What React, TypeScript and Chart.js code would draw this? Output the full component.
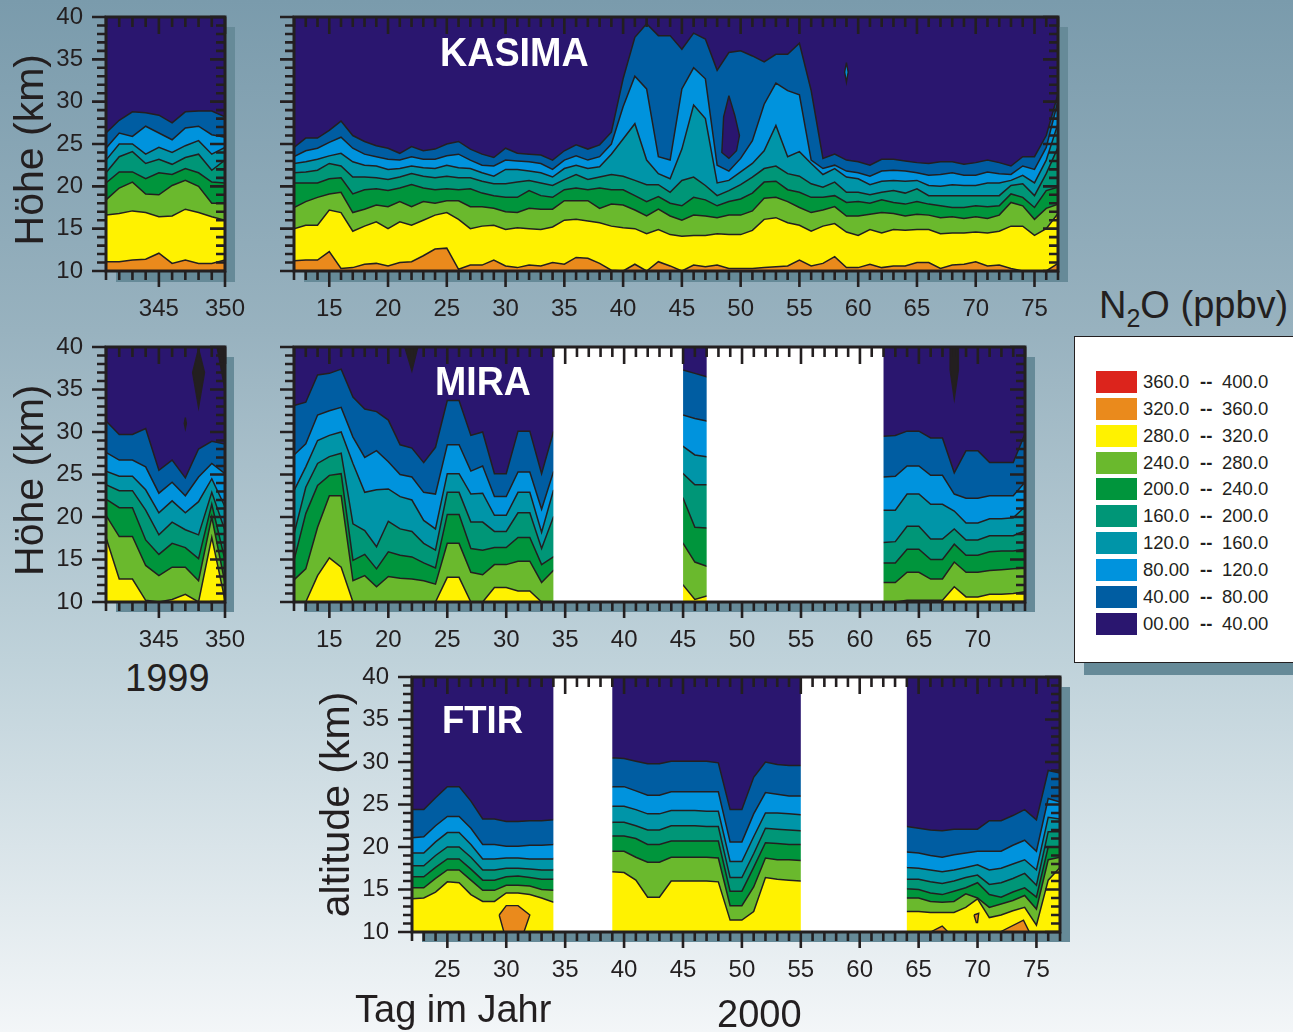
import React, { useEffect, useRef } from "react";
import { Chart, registerables } from "chart.js";

Chart.register(...registerables);

const range = (a: number, b: number) => {
  const out: number[] = [];
  for (let i = a; i <= b; i++) out.push(i);
  return out;
};

// ---------- contour levels (ppbv) and colours ----------
const contourColors = ["#005da2", "#0093dd", "#0095a8", "#009677", "#00953c", "#6ab92d", "#fff200", "#ea8a1c"];
const navy = "#2a166f";
const legendLow = ["360.0", "320.0", "280.0", "240.0", "200.0", "160.0", "120.0", "80.00", "40.00", "00.00"];
const legendHigh = ["400.0", "360.0", "320.0", "280.0", "240.0", "200.0", "160.0", "120.0", "80.00", "40.00"];
const legendColors = ["#dc241c", "#ea8a1c", "#fff200", "#6ab92d", "#00953c", "#009677", "#0095a8", "#0093dd", "#005da2", "#2a166f"];

// ---------- KASIMA 1999 ----------
const leftDays = range(341, 350);
const kasimaLeft40 = [26.3, 27.8, 28.8, 28.7, 28.4, 27.5, 28.8, 28.9, 28.9, 28.2];
const kasimaLeft80 = [24.5, 26.3, 25.9, 27.1, 26.3, 25.5, 26.9, 27.1, 26.1, 25.8];
const kasimaLeft120 = [23.1, 25, 25, 23.8, 24.6, 24, 24.8, 25.4, 23.8, 24.6];
const kasimaLeft160 = [21.6, 23.5, 24.1, 22.7, 23.2, 22.6, 23.4, 23.8, 21.9, 23.1];
const kasimaLeft200 = [20.4, 21.7, 21.7, 20.9, 21.6, 21.4, 22.1, 21.6, 20.5, 20.4];
const kasimaLeft240 = [18.4, 19.8, 20.5, 19.1, 19, 20.1, 20.7, 20, 18, 18];
const kasimaLeft280 = [16.6, 16.8, 17.1, 16.9, 16.4, 16.5, 17.3, 16.9, 16.4, 16];
const kasimaLeft320 = [11.1, 11.1, 11.3, 11.4, 12.1, 10.9, 11.3, 10.9, 10.9, 11.3];

// ---------- KASIMA 2000 ----------
const kasimaDays = range(12, 77);
const kasima40 = [24.6, 25.7, 25.7, 26.6, 27.7, 26, 25.3, 24.8, 24.5, 23.9, 24.7, 24.2, 24.4, 25, 25.3, 24.4, 23.8, 23.4, 24.5, 23.9, 23.8, 23.7, 23.1,
  24.2, 24.9, 24.4, 24.9, 26.4, 32.7, 37.6, 39.2, 37.8, 37.8, 36.2, 38.1, 37.4, 33.7, 35.8, 36, 35.4, 34.7, 35.6, 35.6, 36.9, 31.3,
  23.3, 23.8, 23.1, 22.9, 22.5, 23.2, 23.2, 23, 22.8, 22.7, 22.9, 22.9, 22.6, 22.8, 23.1, 22.8, 22.4, 23.5, 23.5, 26, 30.9];
const kasima80 = [23.5, 24.2, 24.5, 25.2, 25.8, 24.5, 23.8, 23.5, 23.2, 23.1, 23.5, 23.2, 23.2, 23.6, 23.8, 23.1, 22.5, 22.4, 23.1, 23, 22.9, 22.7, 22,
  23.1, 23.6, 23.1, 23.5, 25, 29.4, 33, 31.5, 23.5, 23.1, 31.5, 34, 32.7, 22.5, 21.8, 23.3, 25.4, 29.7, 32.2, 31.3, 30.8, 23.1,
  22.1, 22.5, 21.8, 21.6, 21.2, 21.8, 21.9, 21.8, 21.6, 21.3, 21.4, 21.6, 21.3, 21.3, 21.7, 21.5, 21.4, 22.4, 22, 24.6, 30.1];
const kasima120 = [22.7, 22.9, 23.2, 23.6, 23.9, 22.9, 22.5, 22.4, 22, 22.1, 22.4, 22.2, 22.1, 22.5, 22.2, 22.1, 21.6, 21.2, 22, 22, 21.8, 21.6, 21.1,
  22.1, 22.5, 22.1, 22.3, 23.8, 25.6, 27.4, 23.1, 21.5, 20.9, 24.4, 29.6, 28, 20.4, 20.7, 21.7, 22.7, 24.2, 27.2, 23.5, 24.1, 22.7,
  21.4, 22.1, 21.1, 20.9, 20.2, 20.6, 20.7, 20.6, 20.7, 20.1, 20, 20.2, 20.1, 20.1, 20.4, 20.4, 20.7, 21.3, 20.4, 23.1, 27.4];
const kasima160 = [21.6, 21.7, 21.9, 22.7, 22.4, 21.1, 21.1, 21, 20.8, 21.1, 21.5, 21.2, 21, 21.2, 21, 21, 20.6, 20.3, 20.3, 20.5, 20.7, 20.4, 20.1,
  20.8, 21.4, 20.8, 21.1, 21.4, 21.2, 20.7, 20.2, 20.2, 19.3, 20.7, 21.1, 20.1, 18.9, 19.5, 20.2, 21.1, 22.1, 22.4, 21.5, 21.2, 20.3,
  19.9, 20.5, 19.3, 19.3, 19, 19.3, 19.5, 19.2, 19.7, 18.9, 18.9, 18.9, 18.9, 18.9, 18.9, 18.9, 20.1, 20.3, 18.9, 21.5, 24.6];
const kasima200 = [20.4, 20.4, 20.4, 20.9, 21, 19.1, 19.6, 19.7, 19.5, 19.8, 20.2, 19.8, 19.6, 19.7, 19.6, 19.7, 19.2, 18.9, 18.7, 18.7, 19.5, 18.9, 18.7,
  19.6, 19.8, 19.6, 19.8, 19.6, 19.6, 18.9, 18.2, 18.8, 18, 17.7, 18.7, 18.4, 17.7, 18.2, 18.5, 19.2, 20.5, 20.6, 19.6, 19.3, 18.7,
  18.7, 18.9, 18.1, 18.2, 18, 18.4, 18.1, 17.9, 18.2, 17.9, 17.7, 17.5, 17.5, 17.7, 17.6, 17.7, 19.1, 18.7, 17.5, 19.5, 19.9];
const kasima240 = [17.5, 18.2, 18.7, 19.1, 19.3, 16.9, 17.3, 17.8, 17.6, 18.2, 17.6, 18.2, 18, 18.3, 18.3, 17.6, 17.6, 17.4, 17, 16.9, 17.4, 17.3, 17.3,
  18.3, 18.3, 18.3, 17.4, 17.9, 17.8, 17.2, 16.5, 17.3, 16.5, 16, 16.6, 16.5, 16.3, 16.6, 16.6, 17.1, 18.6, 18.7, 18.2, 17.5, 16.9,
  17.2, 17.6, 16.5, 16.5, 16.7, 16.9, 16.8, 16.5, 16.7, 16.6, 16.3, 16.4, 16.2, 16.4, 16.2, 16.6, 18.1, 17.7, 16.1, 17.4, 17.9];
const kasima280 = [15, 15.4, 15.4, 17.2, 16.9, 14.7, 15.3, 15.8, 15, 15.8, 15.4, 16, 16.6, 16.9, 16.1, 15, 15.3, 15.4, 14.9, 15.1, 15, 14.9, 15.2,
  16, 16.1, 15.9, 15.7, 15.3, 15.1, 15, 14.4, 14.9, 14.3, 14.1, 14.2, 14.2, 14.4, 14.3, 14.3, 14.8, 16.1, 16.3, 15.7, 15.4, 14.7,
  15.3, 15.6, 14.6, 14.2, 14.9, 14.5, 14.9, 14.8, 14.9, 14.9, 14.4, 14.5, 14.5, 14.6, 14.5, 14.7, 15.3, 15.3, 14.2, 15, 16.8];
const kasima320 = [11.2, 11.3, 11.3, 12.3, 10.3, 10.4, 10.8, 10.9, 10.6, 11, 11.1, 11.8, 12.6, 12.7, 10.2, 10.7, 10.7, 11.3, 10.6, 10.4, 10.7, 10.6, 11,
  10.8, 11.6, 11.5, 10.9, 10.1, 10, 10.8, 10, 11.1, 10.6, 10, 10.7, 10.5, 10.7, 10.3, 10.3, 10.3, 10.4, 10.5, 10.6, 11.3, 10.6,
  10.9, 11.7, 10.4, 10.4, 10.8, 10.4, 10.6, 10.6, 11, 11, 10.3, 10.7, 10.8, 11.1, 10.6, 10.7, 10.3, 10, 10, 10, 10.9];
const kasimaIslandDays = [49, 49.5, 49.9, 49.65, 49, 48.4, 48.55, 49];
const kasimaIslandKm = [30.7, 28.4, 26, 24.2, 23.3, 24, 28.2, 30.7];
const kasimaSpotDays = [59, 59.15, 59, 58.85, 59];
const kasimaSpotKm = [34.6, 33.5, 32.3, 33.5, 34.6];

// ---------- MIRA 1999 ----------
const miraLeft40 = [31.3, 29.7, 29.7, 30.4, 25.5, 26.7, 24.6, 28, 28.9, 28.6];
const miraLeft80 = [27.6, 26.7, 26.7, 25.9, 22.8, 24.1, 22.5, 24.7, 26.3, 25.1];
const miraLeft120 = [25.4, 24.8, 24.8, 23.2, 20.5, 21.9, 20.5, 21.8, 24.5, 21.2];
const miraLeft160 = [23.8, 23.1, 23.1, 20.8, 17.9, 19.4, 18.5, 17.9, 22.9, 18.4];
const miraLeft200 = [22.1, 21.1, 21.1, 17.3, 15.6, 16.9, 16.4, 15.1, 21.5, 14.9];
const miraLeft240 = [20.2, 17.7, 17.7, 14.3, 13.1, 14.1, 14.1, 12.5, 20, 12.2];
const miraLeft280 = [17.6, 12.7, 12.7, 10.2, 10, 10.3, 10.9, 10, 17.6, 10.2];
const miraSpot1Days = [348, 348.45, 348, 347.55, 348];
const miraSpot1Km = [39.8, 37, 32.9, 37, 39.8];
const miraSpot2Days = [349.4, 350, 350, 349.4];
const miraSpot2Km = [40, 40, 35, 40];
const miraSpot3Days = [347, 347.08, 347, 346.92, 347];
const miraSpot3Km = [31.7, 31, 30.4, 31, 31.7];

// ---------- MIRA 2000 ----------
const miraDays = [...range(12, 34), 45, 46, 47, ...range(62, 74)];
const miraGaps = [[34, 45], [47, 62]];
const mira40 = [33.1, 33.5, 36.7, 36.9, 37.4, 34.1, 32.7, 32.4, 31.4, 28.5, 28.1, 26.4, 28.2, 33.7, 33.7, 29.6, 30, 25.1, 25.1, 30.1, 30.1, 25.1, 30,
  37.3, 36.9, 36.5, 29.5, 29.6, 30.1, 30.1, 29.3, 29.3, 25.2, 27.8, 27.8, 26.4, 26.4, 26.4, 29.8];
const mira80 = [27.3, 28.6, 32, 32.5, 32.9, 29.4, 27, 27.8, 26.5, 25, 24.7, 22.9, 22.7, 28.5, 28.5, 25.4, 26, 22.4, 22.4, 25.3, 25.3, 20.9, 25.3,
  32, 31.6, 31.3, 24.7, 24.8, 26, 26, 24.9, 24.9, 22.7, 22.2, 22.2, 22.5, 22.5, 22.5, 24.1];
const mira120 = [23.1, 25.9, 29, 29.6, 30, 26.3, 22.9, 23.2, 23.3, 22.4, 22, 19.6, 18.6, 25.1, 25.1, 22.7, 22.8, 20.2, 20.2, 22.9, 22.9, 18.2, 23.1,
  28.3, 27.3, 27.1, 20.8, 20.8, 22.7, 22.7, 21.5, 21.5, 20.7, 19.3, 19.3, 19.8, 19.8, 19.9, 21.2];
const mira160 = [18, 23.5, 26.3, 27.1, 27.5, 19.2, 18.4, 16.5, 19.5, 18.6, 18.3, 16.9, 16.1, 22.9, 22.9, 19.4, 19.4, 18.3, 18.3, 20.5, 20.5, 16.3, 20,
  25.1, 23.8, 23.8, 17, 17.1, 18.9, 18.9, 17.4, 17.4, 18.6, 17.3, 17.3, 17.8, 17.8, 17.8, 18.4];
const mira200 = [14.9, 20.4, 23.7, 24.9, 25.1, 14.9, 15.6, 13.9, 15.9, 15.5, 15.3, 14.6, 14, 20.3, 20.3, 16.3, 16.1, 16.4, 16.4, 17.6, 17.6, 14.4, 15.3,
  22.2, 18.8, 18.7, 14.6, 14.6, 16.2, 16.2, 15, 15, 16.8, 15.5, 15.5, 15.9, 16, 16, 16.2];
const mira240 = [12.6, 13.9, 18.8, 22.5, 22.5, 12.5, 13.1, 11.8, 13, 12.8, 12.7, 12.5, 12.1, 16.9, 16.9, 13.5, 13.2, 14.4, 14.4, 14.8, 14.8, 12.3, 13.7,
  16.9, 14.7, 14.2, 12.3, 12.3, 13.5, 13.5, 12.7, 12.7, 14.7, 13.5, 13.5, 13.7, 13.8, 13.9, 14];
const mira280 = [10, 10, 13.1, 15.2, 14.1, 10, 10, 10, 10, 10, 10, 10, 10, 12.9, 12.9, 10, 10, 11.7, 11.7, 11.3, 11.3, 10, 10,
  12, 10.3, 10.7, 10, 10, 10.2, 10.2, 10.2, 10.2, 11.8, 10.6, 10.6, 10.9, 10.9, 11, 11.2];
const miraSpot4Days = [21.4, 22.5, 22, 21.4];
const miraSpot4Km = [40, 40, 37.2, 40];
const miraSpot5Days = [67.65, 68.35, 68.35, 68, 67.65, 67.65];
const miraSpot5Km = [40, 40, 37.3, 33.9, 37.3, 40];

// ---------- FTIR 2000 ----------
const ftirDays = [...range(22, 34), ...range(39, 55), ...range(64, 77)];
const ftirGaps = [[34, 39], [55, 64]];
const ftir40 = [24.4, 24.4, 25.8, 27.1, 27.1, 25.4, 23.3, 23.3, 23, 23, 23.1, 23.1, 23.2,
  30.5, 30.4, 30.1, 29.8, 29.8, 30.1, 30.1, 30.1, 30.1, 29.9, 24.4, 24.4, 28.2, 30, 29.7, 29.6, 29.6,
  22.4, 22.2, 22, 21.9, 22.1, 22.1, 22.1, 23.1, 23.1, 23.7, 24.4, 23.2, 29, 28.7];
const ftir80 = [21.1, 21.2, 22.5, 23.6, 23.6, 22.2, 20.3, 20.3, 20.1, 20.1, 20.2, 20.2, 20.3,
  27.1, 27.1, 26.6, 26.1, 26.1, 26.5, 26.5, 26.5, 26.5, 26.5, 20.6, 20.6, 23.9, 26.4, 26.2, 26, 26,
  19.4, 19.3, 19, 18.8, 19.1, 19.3, 19.5, 19.5, 19.5, 20.2, 20.8, 19.5, 25.7, 25.3];
const ftir120 = [19.3, 19.3, 20.6, 21.7, 21.7, 20.3, 18.6, 18.6, 18.7, 18.7, 18.6, 18.6, 18.6,
  24.8, 24.8, 24.4, 23.9, 23.9, 24.3, 24.3, 24.3, 24.2, 24.2, 18.3, 18.3, 21.2, 24, 24, 23.9, 23.8,
  17.6, 17.5, 17.3, 17.1, 17.3, 17.6, 17.9, 17.3, 17.5, 18, 18.5, 17.3, 23.5, 23.3];
const ftir160 = [17.8, 17.8, 19, 20, 20, 18.8, 17.3, 17.3, 17.5, 17.5, 17.4, 17.3, 17.3,
  22.9, 22.9, 22.5, 22, 22, 22.5, 22.5, 22.5, 22.4, 22.4, 16.4, 16.4, 19.2, 22.2, 22.1, 22, 21.9,
  16.2, 16.2, 15.9, 15.7, 16, 16.4, 16.7, 15.6, 15.8, 16.3, 16.9, 15.5, 21.8, 21.8];
const ftir200 = [16.5, 16.5, 17.6, 18.6, 18.6, 17.4, 16.1, 16.1, 16.5, 16.6, 16.4, 16.2, 16.2,
  21.3, 21.3, 21, 20.3, 20.3, 20.7, 20.7, 20.7, 20.7, 20.7, 14.8, 14.8, 17.6, 20.5, 20.4, 20.3, 20.3,
  15.1, 15, 14.6, 14.4, 14.8, 15.2, 15.8, 14.4, 14.1, 14.7, 15.2, 14.1, 20, 20];
const ftir240 = [15.2, 15.2, 16.3, 17.3, 17.3, 16.1, 14.9, 14.9, 15.5, 15.5, 15.4, 15, 14.9,
  19.5, 19.5, 18.8, 18.2, 18.2, 18.8, 18.8, 18.8, 18.8, 18.7, 13.1, 13.1, 15.3, 18.7, 18.5, 18.5, 18.4,
  14, 14, 13.6, 13.5, 13.6, 14.5, 14, 12.9, 13.3, 13.7, 14.3, 12.7, 18.5, 18.8];
const ftir280 = [13.9, 14, 14.7, 15.9, 15.8, 14.4, 13.6, 13.6, 14.6, 14.6, 14.4, 14, 13.5,
  17.1, 17, 16.1, 14.1, 14.1, 16, 16, 16, 16, 15.9, 11.4, 11.4, 12.4, 16.4, 16.2, 16.1, 16,
  12.4, 12.4, 12.3, 12.3, 12.3, 12.9, 13.9, 11.7, 12, 12.5, 12.9, 10.8, 16.1, 17.6];
const ftirOrange1Days = [29.4, 30, 31, 32, 31.5, 29.8, 29.4];
const ftirOrange1Km = [12, 13.1, 13.1, 12, 10, 10, 12];
const ftirOrange2Days = [66, 67, 67.5, 66];
const ftirOrange2Km = [10, 10.7, 10, 10];
const ftirOrange3Days = [71.9, 73.9, 74.4, 71.9];
const ftirOrange3Km = [10, 11.4, 10, 10];
const ftirOrange4Days = [69.7, 70.1, 70, 69.9, 69.7];
const ftirOrange4Km = [12, 12.2, 11.1, 11.1, 12];

const INK = "#231f20";
const FONT = "'Liberation Sans', Arial, sans-serif";

type Shape = { days: number[]; km: number[]; color: string };
type PanelProps = {
  box: [number, number, number, number]; // canvas x, y, w, h
  plot: [number, number, number, number]; // plot left, top, right, bottom
  xRange: [number, number];
  days: number[];
  contours: number[][];
  shapes?: Shape[];
  gaps?: number[][];
  yLabels?: boolean;
  yTitle?: string;
  yTitlePad?: number;
};

function Panel(p: PanelProps) {
  const ref = useRef<HTMLCanvasElement>(null);
  useEffect(() => {
    const [cx, cy, cw, ch] = p.box;
    const [L, T, R, B] = p.plot;
    const frame = {
      id: "frame",
      beforeDatasetsDraw(c: any) {
        const a = c.chartArea;
        c.ctx.save();
        c.ctx.fillStyle = navy;
        c.ctx.fillRect(a.left, a.top, a.right - a.left, a.bottom - a.top);
        c.ctx.restore();
      },
      afterDatasetsDraw(c: any) {
        const { ctx, chartArea: a, scales } = c;
        const x = scales.x;
        const y = scales.y;
        ctx.save();
        ctx.fillStyle = "#ffffff";
        (p.gaps || []).forEach(([g0, g1]) => {
          const x0 = x.getPixelForValue(g0);
          ctx.fillRect(x0, a.top, x.getPixelForValue(g1) - x0, a.bottom - a.top);
        });
        ctx.strokeStyle = INK;
        ctx.lineWidth = 2.6;
        ctx.beginPath();
        x.ticks.forEach((t: any) => {
          const px = x.getPixelForValue(t.value);
          const major = t.value % 5 === 0;
          ctx.moveTo(px, a.bottom);
          ctx.lineTo(px, a.bottom + (major ? 16 : 9));
          ctx.moveTo(px, a.top);
          ctx.lineTo(px, a.top + (major ? 17 : 10));
        });
        y.ticks.forEach((t: any) => {
          const py = y.getPixelForValue(t.value);
          const major = t.value % 5 === 0;
          ctx.moveTo(a.left, py);
          ctx.lineTo(a.left - (major ? 14 : 9), py);
          ctx.moveTo(a.right, py);
          ctx.lineTo(a.right - (major ? 15 : 9), py);
        });
        ctx.stroke();
        ctx.lineWidth = 3;
        ctx.strokeRect(a.left, a.top, a.right - a.left, a.bottom - a.top);
        ctx.restore();
      },
    };
    const bands = p.contours.map((vals, i) => ({
      data: p.days.map((d, j) => ({ x: d, y: vals[j] })),
      borderColor: INK,
      borderWidth: 1.5,
      backgroundColor: contourColors[i],
      fill: "start",
      pointRadius: 0,
      tension: 0,
      order: 100 - i,
    }));
    const shapes = (p.shapes || []).map((s) => ({
      data: s.days.map((d, j) => ({ x: d, y: s.km[j] })),
      borderColor: INK,
      borderWidth: 1.4,
      backgroundColor: s.color,
      fill: "shape",
      pointRadius: 0,
      tension: 0,
      order: 0,
    }));
    const tickFont = { family: FONT, size: 24 };
    const chart = new Chart(ref.current!, {
      type: "line",
      data: { datasets: [...shapes, ...bands] as any },
      plugins: [frame],
      options: {
        animation: false,
        responsive: false,
        maintainAspectRatio: false,
        layout: { padding: { left: 0, top: T - cy, right: cx + cw - R, bottom: 0 } },
        plugins: { legend: { display: false }, tooltip: { enabled: false }, title: { display: false } },
        scales: {
          x: {
            type: "linear",
            min: p.xRange[0],
            max: p.xRange[1],
            grid: { display: false, drawTicks: false },
            border: { display: false },
            ticks: {
              stepSize: 1,
              autoSkip: false,
              maxRotation: 0,
              padding: 24,
              color: INK,
              font: tickFont,
              callback: (v: any) => (Number(v) % 5 === 0 ? String(v) : ""),
            },
            afterFit: (s: any) => {
              s.height = cy + ch - B;
              s.paddingLeft = 0;
              s.paddingRight = 0;
            },
          },
          y: {
            type: "linear",
            min: 10,
            max: 40,
            grid: { display: false, drawTicks: false },
            border: { display: false },
            title: p.yTitle
              ? { display: true, text: p.yTitle, color: INK, font: { family: FONT, size: 41 }, padding: { top: p.yTitlePad ?? 7, bottom: 0 } }
              : { display: false },
            ticks: {
              stepSize: 1,
              autoSkip: false,
              padding: 23,
              color: INK,
              font: tickFont,
              callback: (v: any) => (p.yLabels && Number(v) % 5 === 0 ? String(v) : ""),
            },
            afterFit: (s: any) => {
              s.width = L - cx;
              s.paddingTop = 0;
              s.paddingBottom = 0;
            },
          },
        },
      } as any,
    });
    return () => chart.destroy();
  }, []);
  const [cx, cy, cw, ch] = p.box;
  return <canvas ref={ref} width={cw} height={ch} style={{ position: "absolute", left: cx, top: cy, width: cw, height: ch }} />;
}

const shadow = (left: number, top: number, right: number, bottom: number) => (
  <div style={{ position: "absolute", left, top, width: right - left, height: bottom - top, background: "#668a98" }} />
);

function Txt(props: { x: number; y: number; size: number; bold?: boolean; color?: string; sy?: number; children: React.ReactNode }) {
  return (
    <div
      style={{
        position: "absolute",
        left: props.x,
        top: props.y,
        fontFamily: FONT,
        fontSize: props.size,
        fontWeight: props.bold ? 700 : 400,
        color: props.color || INK,
        lineHeight: 1,
        whiteSpace: "pre",
        transform: props.sy ? `scaleY(${props.sy})` : undefined,
        transformOrigin: "left center",
      }}
    >
      {props.children}
    </div>
  );
}

export default function App() {
  return (
    <div
      style={{
        position: "absolute",
        left: 0,
        top: 0,
        width: 1293,
        height: 1032,
        overflow: "hidden",
        background: "linear-gradient(to bottom, #7a9bac 0%, #98b2bf 32%, #bfd2da 64%, #f3f6f8 100%)",
      }}
    >
      {shadow(116, 27, 235, 282)}
      {shadow(304, 27, 1068, 282)}
      {shadow(116, 357, 234, 612)}
      {shadow(304, 357, 1035, 612)}
      {shadow(422, 687, 1070, 942)}
      {shadow(1084, 346, 1293, 675)}

      <Panel
        box={[0, 0, 262, 325]}
        plot={[106, 17, 225, 271]}
        xRange={[341, 350]}
        days={leftDays}
        contours={[kasimaLeft40, kasimaLeft80, kasimaLeft120, kasimaLeft160, kasimaLeft200, kasimaLeft240, kasimaLeft280, kasimaLeft320]}
        yLabels
        yTitle="Höhe (km) "
      />
      <Panel
        box={[270, 0, 815, 325]}
        plot={[294, 17, 1058, 271]}
        xRange={[12, 77]}
        days={kasimaDays}
        contours={[kasima40, kasima80, kasima120, kasima160, kasima200, kasima240, kasima280, kasima320]}
        shapes={[
          { days: kasimaIslandDays, km: kasimaIslandKm, color: navy },
          { days: kasimaSpotDays, km: kasimaSpotKm, color: "#0093dd" },
        ]}
      />
      <Panel
        box={[0, 330, 262, 325]}
        plot={[106, 347, 225, 602]}
        xRange={[341, 350]}
        days={leftDays}
        contours={[miraLeft40, miraLeft80, miraLeft120, miraLeft160, miraLeft200, miraLeft240, miraLeft280]}
        shapes={[
          { days: miraSpot1Days, km: miraSpot1Km, color: INK },
          { days: miraSpot2Days, km: miraSpot2Km, color: INK },
          { days: miraSpot3Days, km: miraSpot3Km, color: INK },
        ]}
        yLabels
        yTitle="Höhe (km) "
      />
      <Panel
        box={[270, 330, 790, 325]}
        plot={[294, 347, 1025, 602]}
        xRange={[12, 74]}
        days={miraDays}
        gaps={miraGaps}
        contours={[mira40, mira80, mira120, mira160, mira200, mira240, mira280]}
        shapes={[
          { days: miraSpot4Days, km: miraSpot4Km, color: INK },
          { days: miraSpot5Days, km: miraSpot5Km, color: INK },
        ]}
      />
      <Panel
        box={[310, 660, 775, 330]}
        plot={[412, 677, 1060, 932]}
        xRange={[22, 77]}
        days={ftirDays}
        gaps={ftirGaps}
        contours={[ftir40, ftir80, ftir120, ftir160, ftir200, ftir240, ftir280]}
        shapes={[
          { days: ftirOrange1Days, km: ftirOrange1Km, color: "#ea8a1c" },
          { days: ftirOrange2Days, km: ftirOrange2Km, color: "#ea8a1c" },
          { days: ftirOrange3Days, km: ftirOrange3Km, color: "#ea8a1c" },
          { days: ftirOrange4Days, km: ftirOrange4Km, color: "#ea8a1c" },
        ]}
        yLabels
        yTitle="altitude (km)"
        yTitlePad={3}
      />

      <Txt x={440} y={34} size={37.7} bold color="#ffffff" sy={1.08}>KASIMA</Txt>
      <Txt x={435} y={363} size={37.5} bold color="#ffffff" sy={1.08}>MIRA</Txt>
      <Txt x={442} y={702} size={36.5} bold color="#ffffff" sy={1.08}>FTIR</Txt>
      <Txt x={125} y={659} size={38}>1999</Txt>
      <Txt x={355} y={990} size={38}>Tag im Jahr</Txt>
      <Txt x={717} y={995} size={38}>2000</Txt>
      <Txt x={1099} y={286} size={38}>
        N<sub style={{ fontSize: 25, lineHeight: 0 }}>2</sub>O (ppbv)
      </Txt>

      <div style={{ position: "absolute", left: 1074, top: 336, width: 240, height: 327, boxSizing: "border-box", background: "#fff", border: `1.5px solid ${INK}` }} />
      {legendLow.map((low, i) => (
        <React.Fragment key={low + i}>
          <div style={{ position: "absolute", left: 1096, top: 371 + i * 26.85, width: 41, height: 22, background: legendColors[i] }} />
          <Txt x={1143} y={373 + i * 26.85} size={18.5}>{low}</Txt>
          <Txt x={1200} y={373 + i * 26.85} size={18.5} bold>--</Txt>
          <Txt x={1222} y={373 + i * 26.85} size={18.5}>{legendHigh[i]}</Txt>
        </React.Fragment>
      ))}
    </div>
  );
}
